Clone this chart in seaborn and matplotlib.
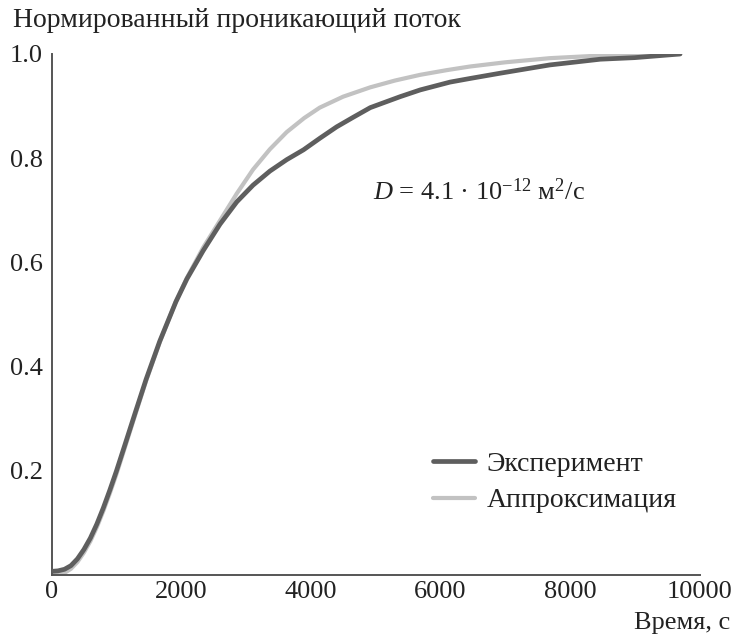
import numpy as np
import pandas as pd
import seaborn as sns
import matplotlib
matplotlib.use("Agg")
import matplotlib.pyplot as plt

# ---- data ----
t_exp = [0, 100, 200, 300, 400, 500, 600, 700, 800, 900, 1000, 1130, 1290, 1460,
         1670, 1920, 2090, 2340, 2600, 2860, 3110, 3370, 3630, 3890, 4140, 4400,
         4650, 4920, 5380, 5690, 6150, 6460, 6920, 7690, 8470, 9000, 9400, 9700]
v_exp = [0.006, 0.007, 0.010, 0.017, 0.030, 0.048, 0.070, 0.097, 0.128, 0.162,
         0.198, 0.248, 0.310, 0.375, 0.448, 0.524, 0.568, 0.622, 0.673, 0.716,
         0.748, 0.775, 0.797, 0.816, 0.838, 0.860, 0.878, 0.897, 0.918, 0.931,
         0.946, 0.953, 0.963, 0.979, 0.990, 0.993, 0.997, 1.000]

t_fit = [0, 100, 200, 300, 400, 500, 600, 700, 800, 900, 1000, 1130, 1290, 1460,
         1670, 1920, 2090, 2340, 2600, 2860, 3110, 3370, 3630, 3900, 4140, 4500,
         4920, 5300, 5690, 6100, 6460, 7000, 7690, 8470, 9000, 9400, 9700]
v_fit = [0.000, 0.000, 0.003, 0.011, 0.024, 0.042, 0.064, 0.091, 0.122, 0.156,
         0.192, 0.243, 0.306, 0.372, 0.446, 0.525, 0.570, 0.628, 0.680, 0.732,
         0.778, 0.817, 0.850, 0.877, 0.897, 0.918, 0.936, 0.949, 0.960, 0.969,
         0.976, 0.984, 0.992, 0.997, 0.999, 1.000, 1.000]

labels = ["Эксперимент", "Аппроксимация"]
x_ticks = [0, 2000, 4000, 6000, 8000, 10000]
y_ticks = [0.2, 0.4, 0.6, 0.8, 1.0]
title = "Нормированный проникающий поток"
xlabel = "Время, с"

# ---- style ----
sns.set_style("white")
plt.rcParams["font.family"] = ["Liberation Serif", "DejaVu Serif"]
plt.rcParams["mathtext.fontset"] = "custom"
plt.rcParams["mathtext.rm"] = "Liberation Serif"
plt.rcParams["mathtext.it"] = "Liberation Serif:italic"

FS_BIG = 20
FS = 19
dark = "#5e5e5e"
light = "#c2c2c2"
txt = "#222222"

fig = plt.figure(figsize=(7.36, 6.39), dpi=100)
ax = fig.add_axes([51.5 / 736, 1 - 574.5 / 639, 648 / 736, 520.5 / 639])

df_exp = pd.DataFrame({"t": t_exp, "v": v_exp})
df_fit = pd.DataFrame({"t": t_fit, "v": v_fit})

sns.lineplot(data=df_fit, x="t", y="v", ax=ax, color=light, lw=3.0,
             zorder=2, label=labels[1], sort=False)
sns.lineplot(data=df_exp, x="t", y="v", ax=ax, color=dark, lw=3.4,
             zorder=3, label=labels[0], sort=False)

ax.set_xlim(0, 10000)
ax.set_ylim(0, 1.0)
ax.set_xticks(x_ticks)
ax.set_xticklabels([str(x) for x in x_ticks])
ax.set_yticks(y_ticks)
ax.set_yticklabels([f"{y:.1f}" for y in y_ticks])
ax.set_xlabel("")
ax.set_ylabel("")

for side in ["top", "right"]:
    ax.spines[side].set_visible(False)
for side in ["left", "bottom"]:
    ax.spines[side].set_color("#555555")
    ax.spines[side].set_linewidth(1.4)

ax.tick_params(axis="both", direction="in", length=7, width=1.1,
               color="#555555", labelsize=FS, labelcolor=txt)
ax.tick_params(axis="x", pad=4.5)
ax.tick_params(axis="y", pad=6)

handles, labs = ax.get_legend_handles_labels()
order = [labs.index(labels[0]), labs.index(labels[1])]
leg = ax.legend([handles[i] for i in order], [labs[i] for i in order],
                loc="center left", bbox_to_anchor=(0.589, 0.177),
                frameon=False, fontsize=FS_BIG, handlelength=1.5,
                handletextpad=0.43, labelspacing=0.40, borderpad=0,
                borderaxespad=0)
for t in leg.get_texts():
    t.set_color(txt)

ax.text(4961, 0.735, r"$D$ = 4.1 · 10$^{-12}$ м$^2$/с", fontsize=FS,
        ha="left", va="center", color=txt)

fig.text(13 / 736, 1 - 27 / 639, title, fontsize=FS_BIG, ha="left",
         va="baseline", color=txt)
fig.text(730 / 736, 1 - 623 / 639, xlabel, fontsize=FS, ha="right",
         va="center", color=txt)

fig.savefig("out.png", dpi=100)
